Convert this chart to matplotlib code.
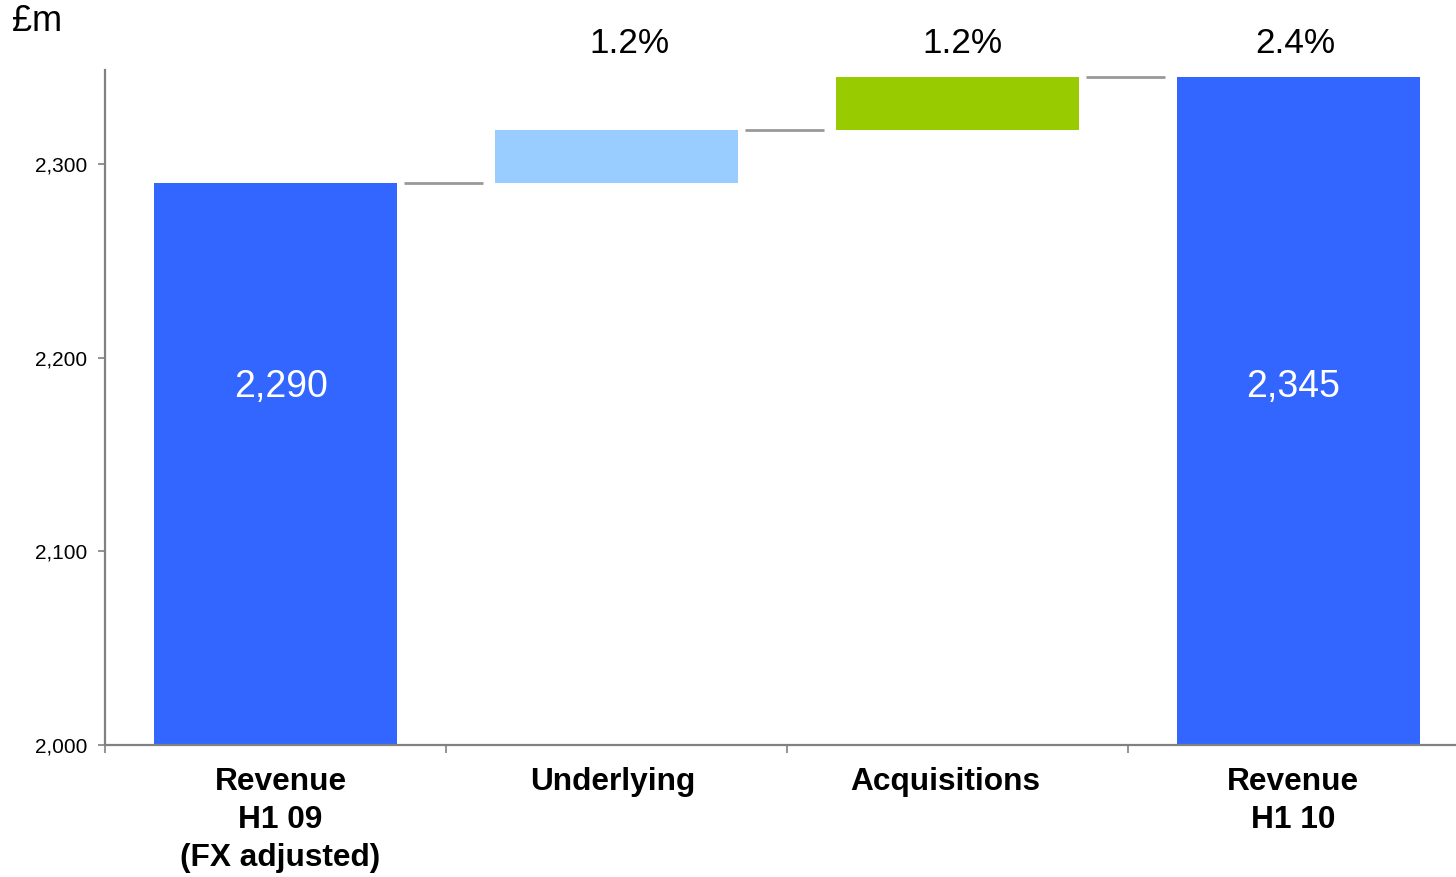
import matplotlib.pyplot as plt
from matplotlib.ticker import FuncFormatter
import matplotlib.transforms as mtransforms

plt.rcParams["font.family"] = ["Liberation Sans", "DejaVu Sans"]

categories = ["Revenue\nH1 09\n(FX adjusted)", "Underlying", "Acquisitions", "Revenue\nH1 10"]
start_total = 2290
changes = [27.5, 27.5]
end_total = 2345
pct_labels = ["1.2%", "1.2%", "2.4%"]
total_labels = ["2,290", "2,345"]
yticks = [2000, 2100, 2200, 2300]

colors = ["#3366FF", "#99CCFF", "#99CC00", "#3366FF"]
axis_grey = "#808080"

# waterfall geometry: totals from the baseline, changes float on the running sum
y0 = 2000
bottoms = [y0]
heights = [start_total - y0]
running = start_total
for c in changes:
    bottoms.append(running)
    heights.append(c)
    running += c
bottoms.append(y0)
heights.append(end_total - y0)
tops = [b + h for b, h in zip(bottoms, heights)]

fig = plt.figure(figsize=(14.56, 8.77), dpi=100)
ax = fig.add_axes([0.0721, 0.1505, 0.9368, 0.7697])

xs = list(range(len(categories)))
ax.bar(xs, heights, bottom=bottoms, width=0.715, color=colors, zorder=2)

# connector lines between consecutive bars
for i in range(len(xs) - 1):
    ax.plot([i + 0.377, i + 0.61], [tops[i], tops[i]], color="#999999", lw=2,
            solid_capstyle="butt", zorder=1)

ax.set_xlim(-0.5, 3.5)
ax.set_ylim(2000, 2348.5)

for s in ["top", "right"]:
    ax.spines[s].set_visible(False)
for s in ["left", "bottom"]:
    ax.spines[s].set_color(axis_grey)
    ax.spines[s].set_linewidth(1.6)

ax.set_yticks(yticks)
ax.yaxis.set_major_formatter(FuncFormatter(lambda v, p: f"{v:,.0f}"))
ax.tick_params(axis="y", length=5, width=1.2, color=axis_grey, labelsize=15, pad=8)

# boundary ticks between categories; labels sit on invisible minor ticks
ax.set_xticks([-0.5, 0.5, 1.5, 2.5])
ax.set_xticklabels([])
label_nudge = [0.015, -0.012, -0.035, -0.015]
ax.set_xticks([x + d for x, d in zip(xs, label_nudge)], minor=True)
ax.set_xticklabels(categories, minor=True, fontsize=22.8, fontweight="bold",
                   linespacing=1.34)
ax.tick_params(axis="x", which="major", length=6, width=1.2, color=axis_grey)
ax.tick_params(axis="x", which="minor", length=0, pad=16)

# percentage labels above the plot area
trans = mtransforms.blended_transform_factory(ax.transData, ax.transAxes)
for x, dx, lab in zip([1, 2, 3], [0.038, 0.015, -0.009], pct_labels):
    ax.text(x + dx, 1.0385, lab, transform=trans, ha="center",
            va="center", fontsize=25.3)

# totals written inside the blue bars
for x, dx, lab in zip([0, 3], [0.015, -0.015], total_labels):
    ax.text(x + dx, 2185, lab, ha="center", va="center", color="white", fontsize=27)

fig.text(0.008, 0.975, "£m", ha="left", va="center", fontsize=26)

fig.savefig("out.png", dpi=100)
